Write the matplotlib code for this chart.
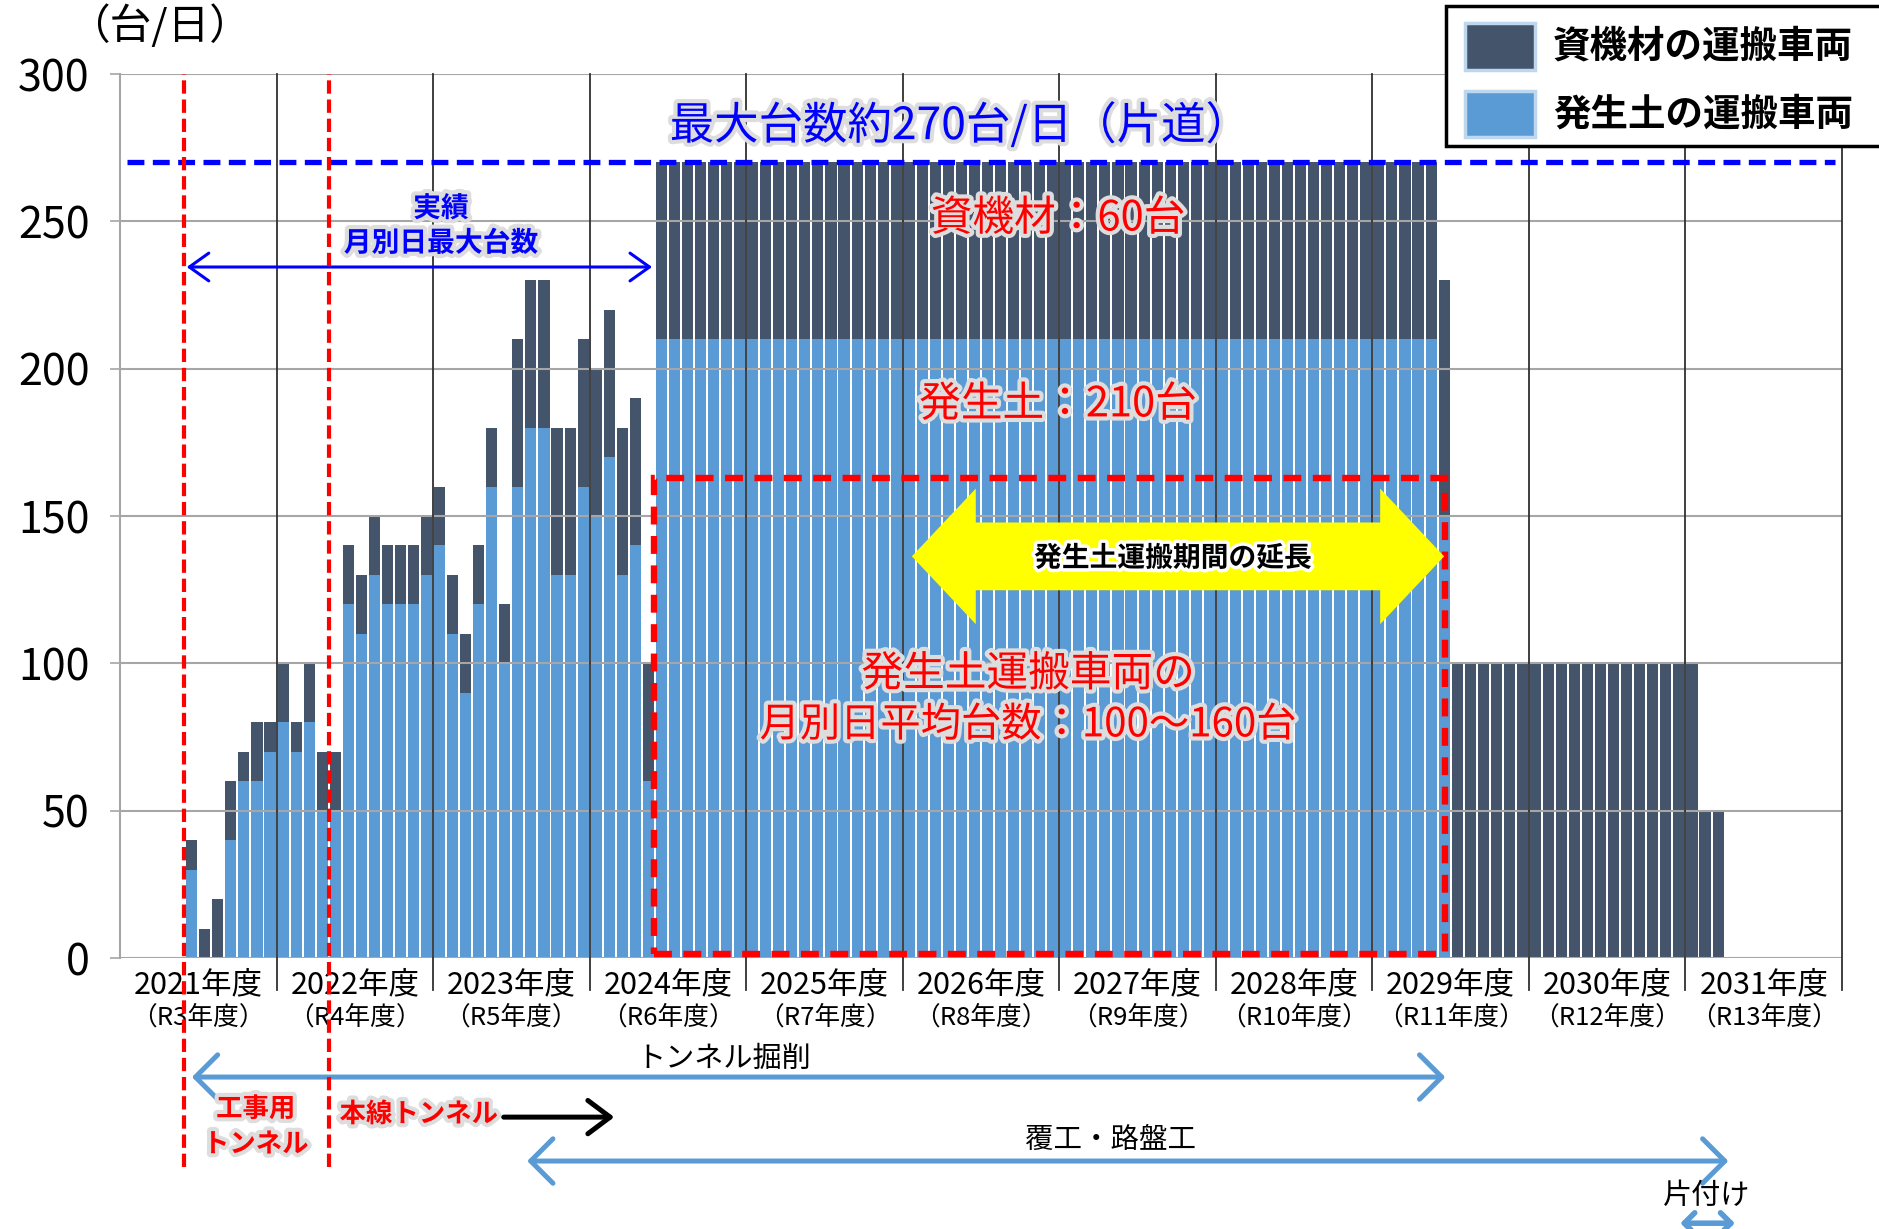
import numpy as np
import matplotlib.pyplot as plt
import matplotlib.patheffects as pe
from matplotlib.patches import Polygon, Rectangle

plt.rcParams['font.family'] = ['Noto Sans CJK JP', 'DejaVu Sans']

# fiscal years (April start), 12 monthly bars each
years = ['2021年度', '2022年度', '2023年度', '2024年度', '2025年度', '2026年度',
         '2027年度', '2028年度', '2029年度', '2030年度', '2031年度']
reiwa = ['（R3年度）', '（R4年度）', '（R5年度）', '（R6年度）', '（R7年度）', '（R8年度）',
         '（R9年度）', '（R10年度）', '（R11年度）', '（R12年度）', '（R13年度）']

# 発生土の運搬車両 (台/日), one row per fiscal year, Apr..Mar
soil = [
    [0, 0, 0, 0, 0, 30, 0, 0, 40, 60, 60, 70],
    [80, 70, 80, 50, 50, 120, 110, 130, 120, 120, 120, 130],
    [140, 110, 90, 120, 160, 100, 160, 180, 180, 130, 130, 160],
    [150, 170, 130, 140, 60, 210, 210, 210, 210, 210, 210, 210],
    [210, 210, 210, 210, 210, 210, 210, 210, 210, 210, 210, 210],
    [210, 210, 210, 210, 210, 210, 210, 210, 210, 210, 210, 210],
    [210, 210, 210, 210, 210, 210, 210, 210, 210, 210, 210, 210],
    [210, 210, 210, 210, 210, 210, 210, 210, 210, 210, 210, 210],
    [210, 210, 210, 210, 210, 150, 0, 0, 0, 0, 0, 0],
    [0, 0, 0, 0, 0, 0, 0, 0, 0, 0, 0, 0],
    [0, 0, 0, 0, 0, 0, 0, 0, 0, 0, 0, 0],
]
# 資機材の運搬車両 (台/日)
material = [
    [0, 0, 0, 0, 0, 10, 10, 20, 20, 10, 20, 10],
    [20, 10, 20, 20, 20, 20, 20, 20, 20, 20, 20, 20],
    [20, 20, 20, 20, 20, 20, 50, 50, 50, 50, 50, 50],
    [50, 50, 50, 50, 40, 60, 60, 60, 60, 60, 60, 60],
    [60, 60, 60, 60, 60, 60, 60, 60, 60, 60, 60, 60],
    [60, 60, 60, 60, 60, 60, 60, 60, 60, 60, 60, 60],
    [60, 60, 60, 60, 60, 60, 60, 60, 60, 60, 60, 60],
    [60, 60, 60, 60, 60, 60, 60, 60, 60, 60, 60, 60],
    [60, 60, 60, 60, 60, 80, 100, 100, 100, 100, 100, 100],
    [100, 100, 100, 100, 100, 100, 100, 100, 100, 100, 100, 100],
    [100, 50, 50, 0, 0, 0, 0, 0, 0, 0, 0, 0],
]

DARK = '#44546A'
LIGHT = '#5B9BD5'
GRID = '#A6A6A6'
W, H = 1879, 1229

soil_m = np.array(soil).ravel()
mat_m = np.array(material).ravel()
n = len(soil_m)
x = np.arange(n) + 0.5

fig = plt.figure(figsize=(W / 100, H / 100), dpi=100)
ax = fig.add_axes([120 / W, 1 - 958 / H, (1842 - 120) / W, (958 - 74) / H])
ax.set_xlim(0, n)
ax.set_ylim(0, 300)

ax.bar(x, soil_m, width=0.85, color=LIGHT, zorder=2)
ax.bar(x, mat_m, width=0.85, bottom=soil_m, color=DARK, zorder=2)

# grid
for v in range(0, 301, 50):
    ax.axhline(v, color=GRID, lw=1.5, zorder=3)
for i in range(1, len(years) + 1):
    ax.plot([12 * i, 12 * i], [-11, 300], color='#303030', lw=1.3, zorder=3, clip_on=False)

for s in ['top', 'right', 'bottom']:
    ax.spines[s].set_visible(False)
ax.spines['left'].set_color(GRID)
ax.spines['left'].set_linewidth(1.5)
ax.set_xticks([])
ax.set_yticks(range(0, 301, 50))
ax.tick_params(axis='y', length=7, width=1.2, color=GRID, labelsize=31, pad=15)

for i, (yl, rl) in enumerate(zip(years, reiwa)):
    ax.text(12 * i + 6, -9.2, yl, ha='center', va='center', fontsize=22, clip_on=False)
    ax.text(12 * i + 6, -20.3, rl, ha='center', va='center', fontsize=18.5, clip_on=False)

fig.text(159 / W, 1 - 26 / H, '（台/日）', ha='center', va='center', fontsize=30)

glow = [pe.withStroke(linewidth=6, foreground='#DDDDDD')]
glow_w = [pe.withStroke(linewidth=5, foreground='white')]

# max line
ax.plot([0.5, 131.5], [270, 270], color='#0000FF', lw=3.8, dashes=(3.2, 1.6), zorder=5)
ax.text(64.4, 282.4, '最大台数約270台/日（片道）', ha='center', va='center',
        fontsize=32, color='#0000FF', path_effects=glow, zorder=7)

ax.text(71.9, 250.8, '資機材：60台', ha='center', va='center', fontsize=30,
        color='red', path_effects=glow, zorder=7)
ax.text(71.9, 187.7, '発生土：210台', ha='center', va='center', fontsize=30,
        color='red', path_effects=glow, zorder=7)

# 実績 arrow
ax.annotate('', xy=(4.9, 234.5), xytext=(41.0, 234.5),
            arrowprops=dict(arrowstyle='<->,head_length=0.7,head_width=0.5', color='#0000FF',
                            lw=2.2, mutation_scale=20), zorder=6)
ax.text(24.6, 254.3, '実績', ha='center', va='center', fontsize=20, fontweight='bold',
        color='#0000FF', path_effects=glow, zorder=7)
ax.text(24.6, 242.5, '月別日最大台数', ha='center', va='center', fontsize=20, fontweight='bold',
        color='#0000FF', path_effects=glow, zorder=7)

# red dashed vertical lines
for xv in [4.9, 16.05]:
    ax.plot([xv, xv], [-71, 300], color='red', lw=3.0, dashes=(3.2, 1.4), zorder=6, clip_on=False)

# red dashed box
ax.add_patch(Rectangle((40.95, 1.5), 101.6 - 40.95, 163 - 1.5, fill=False, edgecolor='red',
                       lw=4.6, linestyle=(0, (2.8, 1.8)), zorder=6))

# yellow double arrow
xl, xr, hl = 60.7, 101.5, 4.9
yc, hh, sh = 136.3, 23.0, 11.5
arrow_pts = [(xl, yc), (xl + hl, yc + hh), (xl + hl, yc + sh), (xr - hl, yc + sh),
             (xr - hl, yc + hh), (xr, yc), (xr - hl, yc - hh), (xr - hl, yc - sh),
             (xl + hl, yc - sh), (xl + hl, yc - hh)]
ax.add_patch(Polygon(arrow_pts, closed=True, facecolor='#FFFF00', edgecolor='none', zorder=7))
ax.text(80.7, 135.6, '発生土運搬期間の延長', ha='center', va='center', fontsize=20,
        fontweight='bold', color='black', path_effects=glow_w, zorder=8)

ax.text(69.6, 96.2, '発生土運搬車両の', ha='center', va='center', fontsize=30,
        color='red', path_effects=glow, zorder=7)
ax.text(69.6, 79.1, '月別日平均台数：100～160台', ha='center', va='center', fontsize=29,
        color='red', path_effects=glow, zorder=7)

# schedule below the axis
ab = '#5B9BD5'
ax.text(46.3, -34.3, 'トンネル掘削', ha='center', va='center', fontsize=21, clip_on=False)
ax.annotate('', xy=(5.3, -40.4), xytext=(101.8, -40.4), annotation_clip=False,
            arrowprops=dict(arrowstyle='<->,head_length=0.8,head_width=0.8', color=ab,
                            lw=3.6, mutation_scale=20))
ax.text(10.4, -51.3, '工事用', ha='center', va='center', fontsize=19, fontweight='bold',
        color='red', path_effects=glow, clip_on=False)
ax.text(10.4, -63.3, 'トンネル', ha='center', va='center', fontsize=19, fontweight='bold',
        color='red', path_effects=glow, clip_on=False)
ax.text(22.9, -53.1, '本線トンネル', ha='center', va='center', fontsize=19, fontweight='bold',
        color='red', path_effects=glow, clip_on=False)
ax.annotate('', xy=(38.1, -54), xytext=(29.2, -54), annotation_clip=False,
            arrowprops=dict(arrowstyle='->,head_length=0.8,head_width=0.6', color='black',
                            lw=3.6, mutation_scale=20))
ax.text(75.9, -61.8, '覆工・路盤工', ha='center', va='center', fontsize=20.5, clip_on=False)
ax.annotate('', xy=(31.0, -68.9), xytext=(123.5, -68.9), annotation_clip=False,
            arrowprops=dict(arrowstyle='<->,head_length=0.8,head_width=0.8', color=ab,
                            lw=3.6, mutation_scale=20))
ax.text(121.6, -80.8, '片付け', ha='center', va='center', fontsize=21, clip_on=False)
ax.annotate('', xy=(119.4, -90), xytext=(124.0, -90), annotation_clip=False,
            arrowprops=dict(arrowstyle='<->,head_length=0.5,head_width=0.5', color=ab,
                            lw=4, mutation_scale=15))

# legend box
def fx(px):
    return px / W

def fy(py):
    return 1 - py / H

tf = fig.transFigure
fig.add_artist(Rectangle((fx(1446), fy(146)), fx(W + 10) - fx(1446), fy(6) - fy(146),
                         transform=tf, facecolor='white', edgecolor='black', lw=2.5, zorder=10))
for (y0, y1), col, lab in [((23, 70), DARK, '資機材の運搬車両'), ((91, 137), LIGHT, '発生土の運搬車両')]:
    fig.add_artist(Rectangle((fx(1465), fy(y1)), fx(1535) - fx(1465), fy(y0) - fy(y1),
                             transform=tf, facecolor=col, edgecolor='#BDD7EE', lw=2.5, zorder=11))
    fig.text(fx(1553), fy((y0 + y1) / 2), lab, ha='left', va='center', fontsize=27,
             fontweight='bold', zorder=11)

fig.savefig('out.png', dpi=100)
